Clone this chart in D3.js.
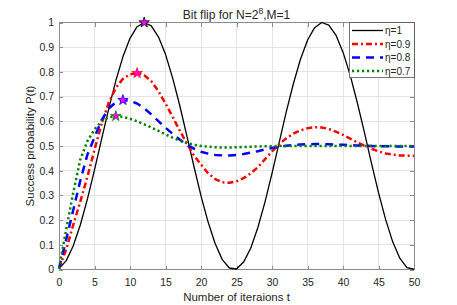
<!DOCTYPE html>
<html lang="en">
<head>
  <meta charset="UTF-8">
  <title>Bit flip</title>
  <script src="https://cdnjs.cloudflare.com/ajax/libs/d3/7.8.5/d3.min.js"></script>
  <style>
    body { margin: 0; background: #fff; }
    svg { display: block; font-family: "Liberation Sans", Arial, sans-serif; }
  </style>
</head>
<body>
    <div id="graph"></div>

    <script>
            // iterations t and success probability per eta
            var iterations = [0,1,2,3,4,5,6,7,8,9,10,11,12,13,14,15,16,17,18,19,20,21,22,23,24,25,
                              26,27,28,29,30,31,32,33,34,35,36,37,38,39,40,41,42,43,44,45,46,47,48,49,50]

            var eta10 = [0.004,0.035,0.095,0.180,0.285,0.403,0.528,0.650,0.764,0.861,
                         0.936,0.983,1.000,0.986,0.942,0.871,0.776,0.665,0.542,0.418,
                         0.298,0.192,0.104,0.040,0.006,0.002,0.030,0.086,0.169,0.272,
                         0.389,0.513,0.637,0.751,0.850,0.928,0.979,1.000,0.989,0.949,
                         0.880,0.788,0.677,0.557,0.432,0.311,0.203,0.112,0.046,0.008,
                         0.001]

            var eta09 = [0.004,0.080,0.180,0.275,0.375,0.485,0.590,0.675,0.735,0.772,
                         0.790,0.795,0.787,0.762,0.722,0.672,0.618,0.563,0.510,0.462,
                         0.425,0.390,0.366,0.353,0.351,0.357,0.370,0.389,0.414,0.446,
                         0.478,0.507,0.531,0.550,0.563,0.572,0.576,0.575,0.569,0.558,
                         0.545,0.530,0.515,0.501,0.489,0.478,0.470,0.465,0.462,0.461,
                         0.461]

            var eta08 = [0.004,0.120,0.240,0.360,0.465,0.535,0.605,0.652,0.677,0.686,
                         0.683,0.672,0.653,0.628,0.601,0.574,0.549,0.526,0.505,0.489,
                         0.477,0.469,0.464,0.462,0.462,0.464,0.468,0.473,0.479,0.486,
                         0.492,0.497,0.501,0.504,0.506,0.507,0.508,0.508,0.507,0.506,
                         0.505,0.503,0.502,0.501,0.500,0.499,0.499,0.498,0.498,0.498,
                         0.498]

            var eta07 = [0.004,0.160,0.310,0.445,0.520,0.567,0.600,0.616,0.621,0.618,
                         0.610,0.600,0.588,0.575,0.561,0.547,0.534,0.522,0.512,0.505,
                         0.500,0.497,0.495,0.494,0.494,0.495,0.496,0.497,0.498,0.499,
                         0.499,0.500,0.500,0.500,0.500,0.500,0.500,0.500,0.500,0.500,
                         0.500,0.500,0.500,0.500,0.500,0.500,0.500,0.500,0.500,0.500,
                         0.500]

            var seriesNames = ["η=1", "η=0.9", "η=0.8", "η=0.7"]
            var xTicks = [0,5,10,15,20,25,30,35,40,45,50]
            var yTicks = [0,0.1,0.2,0.3,0.4,0.5,0.6,0.7,0.8,0.9,1]
            var yTickLabels = ["0","0.1","0.2","0.3","0.4","0.5","0.6","0.7","0.8","0.9","1"]

            var seriesValues = [eta10, eta09, eta08, eta07]
            var styles = [
                {color: "#000000", dash: null, width: 1.3},
                {color: "#ff0000", dash: "6,3,2,3", width: 2.5},
                {color: "#0000ff", dash: "8,6", width: 2.5},
                {color: "#008000", dash: "2.2,2.8", width: 2.5}
            ]

            var width = 457, height = 305
            var plotLeft = 59, plotRight = 414, plotTop = 22.5, plotBottom = 269.5
            var axisColor = "#8c8c8c", textColor = "#262626"

            var svg = d3.select("#graph")
                    .append("svg")
                    .attr("width", width)
                    .attr("height", height)

            var x = d3.scaleLinear().domain([0, 50]).range([plotLeft, plotRight])
            var y = d3.scaleLinear().domain([0, 1]).range([plotBottom, plotTop])

            // grid
            var grid = svg.append("g")
                .attr("stroke", "#e3e3e3")
                .attr("shape-rendering", "crispEdges")
            xTicks.forEach(function(t) {
                grid.append("line")
                    .attr("x1", x(t)).attr("x2", x(t))
                    .attr("y1", plotTop).attr("y2", plotBottom)
            })
            yTicks.forEach(function(v) {
                grid.append("line")
                    .attr("x1", plotLeft).attr("x2", plotRight)
                    .attr("y1", y(v)).attr("y2", y(v))
            })

            // axes, inward ticks on all four sides
            function styleAxis(g) {
                g.select(".domain").remove()
                g.selectAll(".tick line").attr("stroke", axisColor).attr("shape-rendering", "crispEdges")
                g.selectAll(".tick text").attr("fill", textColor).style("font-size", "10.5px")
            }

            svg.append("g")
                .attr("transform", "translate(0," + plotBottom + ")")
                .call(d3.axisBottom(x).tickValues(xTicks).tickSizeInner(-4).tickSizeOuter(0).tickPadding(9.5))
                .call(styleAxis)

            svg.append("g")
                .attr("transform", "translate(" + plotLeft + ",0)")
                .call(d3.axisLeft(y).tickValues(yTicks).tickSizeInner(-4).tickSizeOuter(0).tickPadding(5)
                    .tickFormat(function(d, i) { return yTickLabels[i] }))
                .call(styleAxis)

            svg.append("g")
                .attr("transform", "translate(0," + plotTop + ")")
                .call(d3.axisTop(x).tickValues(xTicks).tickSizeInner(-4).tickSizeOuter(0).tickFormat(""))
                .call(styleAxis)

            svg.append("g")
                .attr("transform", "translate(" + plotRight + ",0)")
                .call(d3.axisRight(y).tickValues(yTicks).tickSizeInner(-4).tickSizeOuter(0).tickFormat(""))
                .call(styleAxis)

            svg.append("rect")
                .attr("x", plotLeft).attr("y", plotTop)
                .attr("width", plotRight - plotLeft).attr("height", plotBottom - plotTop)
                .attr("fill", "none")
                .attr("stroke", axisColor)
                .attr("shape-rendering", "crispEdges")

            // curves
            var line = d3.line()
                .x(function(d, i) { return x(iterations[i]) })
                .y(function(d) { return y(d) })

            seriesValues.forEach(function(values, s) {
                svg.append("path")
                    .datum(values)
                    .attr("d", line)
                    .attr("fill", "none")
                    .attr("stroke", styles[s].color)
                    .attr("stroke-width", styles[s].width)
                    .attr("stroke-dasharray", styles[s].dash)
                    .attr("stroke-linejoin", "round")
            })

            // star at the maximum of each curve
            var star = d3.symbol().type(d3.symbolStar).size(34)
            seriesValues.forEach(function(values, s) {
                var i = d3.maxIndex(values)
                svg.append("path")
                    .attr("d", star)
                    .attr("transform", "translate(" + x(iterations[i]) + "," + y(values[i]) + ")")
                    .attr("fill", "#ff00ff")
                    .attr("stroke", styles[s].color)
                    .attr("stroke-width", 0.8)
            })

            // legend
            var legend = svg.append("g")
            legend.append("rect")
                .attr("x", 349).attr("y", plotTop)
                .attr("width", plotRight - 349).attr("height", 55)
                .attr("fill", "#fff")
                .attr("stroke", "#555")
                .attr("stroke-width", 0.8)
                .attr("shape-rendering", "crispEdges")

            seriesNames.forEach(function(name, s) {
                var ly = 30.5 + s * 13.5
                legend.append("line")
                    .attr("x1", 352).attr("x2", 383)
                    .attr("y1", ly).attr("y2", ly)
                    .attr("stroke", styles[s].color)
                    .attr("stroke-width", styles[s].width)
                    .attr("stroke-dasharray", styles[s].dash)
                legend.append("text")
                    .attr("x", 385)
                    .attr("y", ly + 3.8)
                    .attr("fill", textColor)
                    .style("font-size", "10px")
                    .text(name)
            })

            // title and labels
            var title = svg.append("text")
                .attr("x", (plotLeft + plotRight) / 2)
                .attr("y", 19)
                .attr("text-anchor", "middle")
                .attr("fill", textColor)
                .style("font-size", "12px")
            title.append("tspan").text("Bit flip for N=2")
            title.append("tspan").attr("dy", -5).style("font-size", "8.5px").text("8")
            title.append("tspan").attr("dy", 5).text(",M=1")

            svg.append("text")
                .attr("x", (plotLeft + plotRight) / 2)
                .attr("y", 301)
                .attr("text-anchor", "middle")
                .attr("fill", textColor)
                .style("font-size", "11.5px")
                .text("Number of iteraions t")

            svg.append("text")
                .attr("transform", "translate(34," + (plotTop + plotBottom) / 2 + ") rotate(-90)")
                .attr("text-anchor", "middle")
                .attr("fill", textColor)
                .style("font-size", "11.5px")
                .text("Success probability P(t)")
    </script>

</body>
</html>
